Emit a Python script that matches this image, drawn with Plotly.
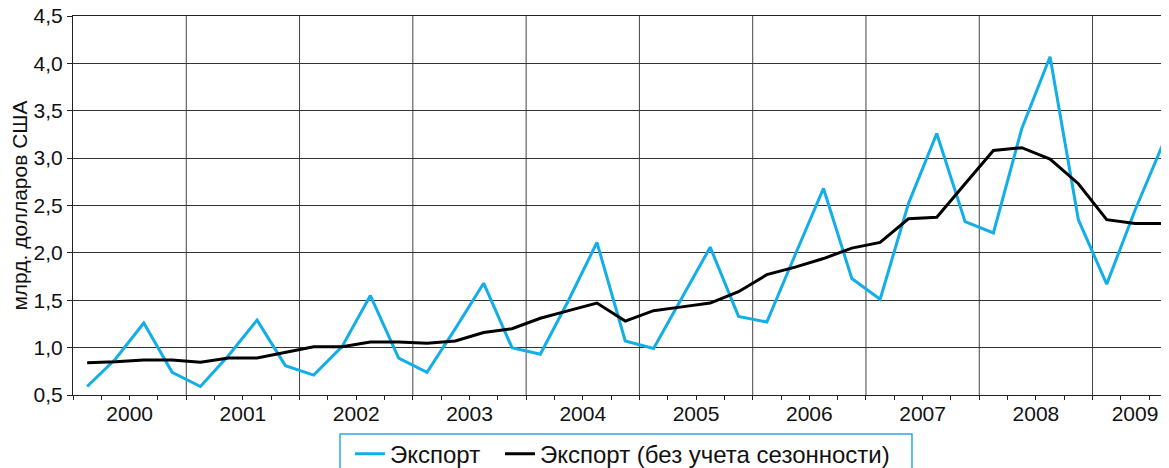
import plotly.graph_objects as go

# Quarterly data, 2000 Q1 - 2009 Q3 (billion USD)
years = ["2000", "2001", "2002", "2003", "2004", "2005", "2006", "2007", "2008", "2009"]
export = [0.59, 0.88, 1.26, 0.74,
          0.59, 0.92, 1.29, 0.81,
          0.71, 1.01, 1.55, 0.89,
          0.74, 1.20, 1.68, 1.00,
          0.93, 1.50, 2.11, 1.07,
          0.99, 1.52, 2.06, 1.33,
          1.27, 1.98, 2.68, 1.73,
          1.51, 2.52, 3.26, 2.33,
          2.21, 3.31, 4.07, 2.35,
          1.67, 2.45, 3.16]
export_sa = [0.84, 0.85, 0.87, 0.87,
             0.845, 0.89, 0.89, 0.95,
             1.01, 1.01, 1.06, 1.06,
             1.045, 1.07, 1.16, 1.20,
             1.31, 1.39, 1.47, 1.28,
             1.39, 1.43, 1.47, 1.59,
             1.77, 1.85, 1.94, 2.05,
             2.11, 2.36, 2.375, 2.73,
             3.08, 3.11, 2.99, 2.73,
             2.35, 2.31, 2.31]

quarters = list(range(len(export)))
n_q = len(quarters)

# Year label positions (centre of the quarters of each year), boundaries between years
year_centers = []
for k in range(len(years)):
    q = [i for i in quarters if i // 4 == k]
    year_centers.append((q[0] + q[-1]) / 2)
year_bounds = [4 * k - 0.5 for k in range(1, len(years))]
quarter_bounds = [i - 0.5 for i in range(n_q + 1)]

font = "Liberation Sans, Arial, sans-serif"
blue = "#12aee8"

fig = go.Figure()
fig.add_trace(go.Scatter(x=quarters, y=export, mode="lines", name="Экспорт",
                         line=dict(color=blue, width=3), legend="legend"))
fig.add_trace(go.Scatter(x=quarters, y=export_sa, mode="lines", name="Экспорт (без учета сезонности)",
                         line=dict(color="black", width=3), legend="legend2"))

# Vertical gridlines at year boundaries
for b in year_bounds:
    fig.add_shape(type="line", x0=b, x1=b, y0=0, y1=1, xref="x", yref="paper",
                  line=dict(color="#444", width=1), layer="below")

# Legend frame
fig.add_shape(type="rect", xref="paper", yref="paper", x0=0.2436, x1=0.7655, y0=-0.103, y1=-0.26,
              line=dict(color="#29abe2", width=1.5), fillcolor="rgba(0,0,0,0)")

fig.update_xaxes(range=[-0.5, 38.2], tickvals=year_centers, ticktext=years, ticks="",
                 showgrid=False, zeroline=False, showline=True, linecolor="#222", linewidth=1,
                 mirror=True, automargin=False,
                 minor=dict(tickvals=quarter_bounds, ticks="outside", ticklen=4,
                            tickcolor="#222", showgrid=False),
                 tickfont=dict(size=21, color="#111"))
fig.update_yaxes(range=[0.5, 4.5], dtick=0.5, tickformat=".1f", ticks="outside", ticklen=5,
                 tickcolor="#222", showgrid=True, gridcolor="#333", gridwidth=1, zeroline=False,
                 showline=True, linecolor="#222", linewidth=1, automargin=False,
                 ticklabeloverflow="allow",
                 title=dict(text="млрд. долларов США", font=dict(size=21, color="#111"), standoff=10),
                 tickfont=dict(size=21, color="#111"))

leg_style = dict(orientation="h", xanchor="left", y=-0.097, yanchor="top", borderwidth=0,
                 bgcolor="rgba(0,0,0,0)", font=dict(size=24), itemwidth=30)

fig.update_layout(width=1161, height=490, separators=", ",
                  margin=dict(l=65, r=0, t=8, b=103),
                  plot_bgcolor="white", paper_bgcolor="white",
                  font=dict(family=font, color="#111"),
                  showlegend=True,
                  legend=dict(x=0.2527, **leg_style),
                  legend2=dict(x=0.3896, **leg_style))

fig.write_html("out.html")
